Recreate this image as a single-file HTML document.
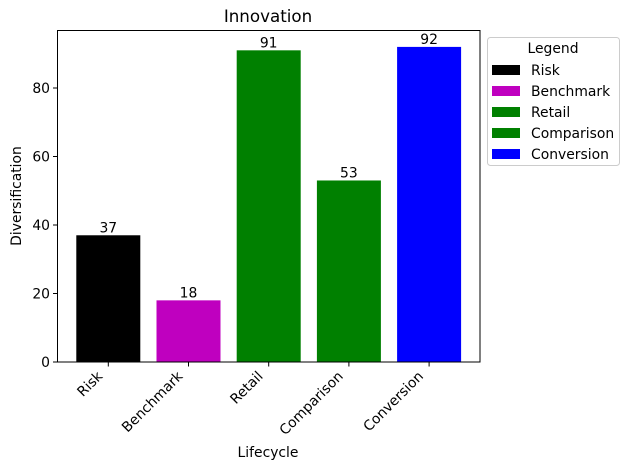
<!DOCTYPE html>
<html><head><meta charset="utf-8"><style>
body{margin:0;background:#fff}
text{font-family:"DejaVu Sans","Liberation Sans",sans-serif;font-size:13.9px;fill:#000}
</style></head><body>
<svg id="c" width="629" height="470" xmlns="http://www.w3.org/2000/svg">
<text x="268" y="22" text-anchor="middle" style="font-size:16.7px">Innovation</text>
<text x="268" y="457" text-anchor="middle">Lifecycle</text>
<text transform="translate(21,196) rotate(-90)" text-anchor="middle">Diversification</text>
<g id="bars"></g>
<rect x="57.5" y="30.5" width="422.5" height="331.5" fill="none" stroke="#000" stroke-width="1"/>
<g>
<rect x="487.5" y="37.5" width="132" height="128" rx="3" fill="#fff" stroke="#ccc"/>
<text x="553" y="53" text-anchor="middle">Legend</text>
<g id="leg"></g>
</g>
</svg>
<script>
const categories=["Risk","Benchmark","Retail","Comparison","Conversion"];
const values=[37,18,91,53,92];
const colors=["#000000","#bf00bf","#008000","#008000","#0000ff"];
const yTicks=[0,20,40,60,80];
const NS="http://www.w3.org/2000/svg";
const svg=document.getElementById('c');
const bars=document.getElementById('bars');
const leg=document.getElementById('leg');
function x(i){return 108.3+80.2*i;}
function y(v){return 362-v*3.425;}
function mk(t,a,p){const e=document.createElementNS(NS,t);for(const k in a)e.setAttribute(k,a[k]);(p||svg).appendChild(e);return e;}
yTicks.forEach(v=>{
  const l=mk('line',{x1:53,x2:57.5,y1:y(v),y2:y(v),stroke:'#000'});
  
  
  const t=mk('text',{x:50,y:y(v)+5,'text-anchor':'end'});t.textContent=v;
  
  
});
categories.forEach((c,i)=>{
  const r=mk('rect',{x:x(i)-32,y:y(values[i]),width:64,height:values[i]*3.425,fill:colors[i]},bars);
  
  
  const vt=mk('text',{x:x(i),y:y(values[i])-3,'text-anchor':'middle'});vt.textContent=values[i];
  
  
  const tk=mk('line',{x1:x(i),x2:x(i),y1:362,y2:366.5,stroke:'#000'});
  
  
  const ax=x(i)-5, ay=377;
  const xt=mk('text',{x:ax,y:ay,'text-anchor':'end',transform:`rotate(-45 ${ax} ${ay})`});xt.textContent=c;
  
  
  const ly=70+21*i;
  const p=mk('rect',{x:492,y:ly-5,width:28,height:10,fill:colors[i]},leg);
  
  
  const lt=mk('text',{x:531,y:ly+5},leg);lt.textContent=c;
  
  
});
</script>
</body></html>
